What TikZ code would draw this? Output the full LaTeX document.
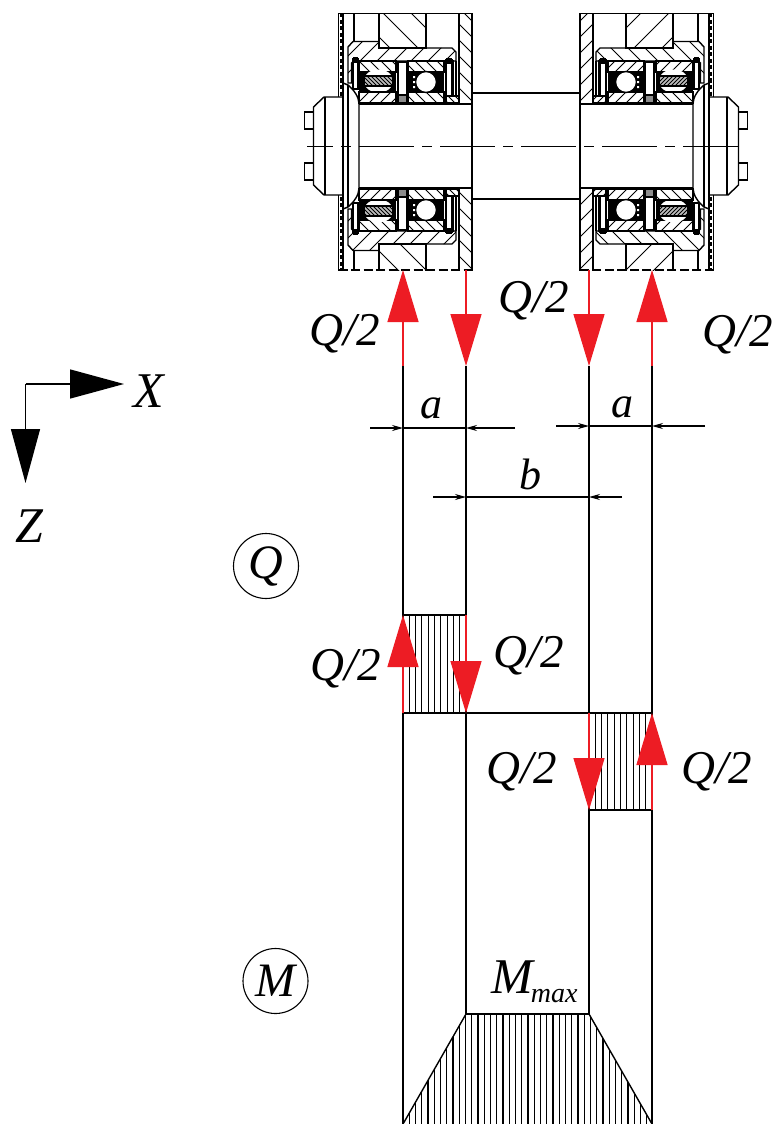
\documentclass[tikz,border=0pt]{standalone}
\usepackage{fontspec}
\setmainfont{Liberation Serif}
\usetikzlibrary{arrows.meta,calc}
\definecolor{redarrow}{HTML}{ED1C24}
\tikzset{
  ol/.style={line width=1.4pt,black},
  hl/.style={line width=1pt,black},
  dh/.style={line width=1.15pt,black},
  diag/.style={line width=1.4pt,black},
  redup/.style={line width=1.3pt,redarrow,-{Triangle[length=52pt,width=31pt]}},
  axisarrow/.style={line width=1.4pt,black,-{Triangle[length=54pt,width=29pt]}},
  dimarrow/.style={line width=1.2pt,black,-{Stealth[length=11pt,width=6pt]}},
  dimline/.style={line width=1.2pt,black},
  lbl/.style={font=\itshape\fontsize{47}{47}\selectfont,inner sep=0pt},
  axlbl/.style={font=\itshape\fontsize{50}{50}\selectfont,inner sep=0pt},
  dimlbl/.style={font=\itshape\fontsize{44}{44}\selectfont,inner sep=0pt},
  ring/.style={draw,circle,line width=1.1pt,inner sep=0pt,minimum size=65pt,font=\itshape\fontsize{48}{48}\selectfont},
}
\def\ysgn{1}
\newcommand{\hatchfill}[5]{%
  \begin{scope}
    \clip #1;
    \foreach \k in {-30,...,30}{\draw[hl] ({#2+\k*#4-120*#5*\ysgn},{#3-120}) -- ({#2+\k*#4+120*#5*\ysgn},{#3+120});}
  \end{scope}
  \draw[ol] #1;}
\newcommand{\crossfill}[1]{%
  \fill[black!45] #1;
  \draw[ol] #1;}
\newcommand{\halfass}{%
  % wall and housing block
  \hatchfill{(459,13.5) rectangle (472,104)}{465}{30}{16}{1}
  \hatchfill{(379,13.5) rectangle (426,48)}{395}{25}{28}{1}
  % outer cover
  \draw[ol] (338.5,13.5) -- (338.5,97);
  \draw[ol] (343,13.5) -- (343,146);
  \draw[line width=1.6pt,dash pattern=on 4pt off 2.5pt] (341,13.5) -- (341,97);
  \draw[ol] (354,13.5) -- (354,41.5);
  % holder
  \hatchfill{(348,83) -- (348,47) -- (353,41.5) -- (379,41.5) -- (379,48) -- (452,48) -- (456,52) -- (456,61) -- (354,61) -- (351.5,63) -- (351.5,83) -- cycle}{400}{55}{17}{-1}
  \draw[ol] (456,61) -- (456,97) (453,60) -- (453,97);
  % washer and shaft end
  \draw[ol] (343,83) -- (348,85) .. controls (354,90) and (359,97) .. (359,104) -- (359,146);
  \draw[ol] (348,85) -- (348,146);
  % retaining ring at the left
  \draw[ol,fill=white] (353,59) rectangle (358,89);
  \fill[black] (353,57) rectangle (358,63);
  % roller bearing
  \hatchfill{(359,61) rectangle (396,72)}{375}{66}{11}{1}
  \fill[black] (359,72) rectangle (396,91);
  \fill[white] (378.5,81) ellipse (15pt and 11.5pt);
  \fill[black!25] (364,76) rectangle (393,86);
  \hatchfill{(364,76) rectangle (393,86)}{375}{80}{4}{1}
  \hatchfill{(359,92) rectangle (396,103)}{375}{97}{11}{-1}
  % spacer
  \draw[ol,fill=white] (398,62) rectangle (407,95);
  \crossfill{(398,95) rectangle (407,103)}
  % ball bearing
  \hatchfill{(408,61) rectangle (444,72)}{420}{66}{11}{1}
  \fill[black] (408,72) rectangle (444,91);
  \hatchfill{(408,92) rectangle (444,103)}{420}{97}{11}{1}
  \draw[ol,fill=white] (426,82) circle (10.5pt);
  \fill[white] (413,76) rectangle (415,78) (413,81) rectangle (415,83) (413,86) rectangle (415,88);
  % snap ring at the right
  \draw[ol,fill=white] (446,60) rectangle (452,96);
  \fill[black] (446,58) rectangle (452,64);
  \hatchfill{(446,96) rectangle (459,103)}{452}{100}{7}{1}
  % shaft
  \draw[ol] (359,104) -- (472,104);
  \draw[ol] (472,13.5) -- (472,146);
  % end cap and bolts
  \draw[ol] (343,97) -- (324,97) -- (313.5,107) -- (313.5,146);
  \draw[ol] (325,97) -- (325,146);
  \draw[ol] (304.5,112) rectangle (313.5,129);
}
\newcommand{\fullass}{%
  \begin{scope}\halfass\end{scope}
  \begin{scope}
    \clip (290,146) rectangle (776,270);
    \begin{scope}[shift={(0,292)},yscale=-1]
      \def\ysgn{-1}
      \halfass
    \end{scope}
  \end{scope}
  \draw[ol] (338.5,13.5) -- (406,13.5) (409.5,13.5) -- (472,13.5);
  \draw[ol,dash pattern=on 9pt off 3.5pt] (338.5,270) -- (472,270);
}
\begin{document}
\begin{tikzpicture}[x=1pt,y=-1pt]
\useasboundingbox (0,0) rectangle (776,1124);
\fill[white] (0,0) rectangle (776,1124);
% assemblies
\fullass
\begin{scope}[shift={(1052,0)},xscale=-1]
  \fullass
\end{scope}
\draw[ol] (472,93) -- (580,93) (472,199) -- (580,199);
\draw[ol,dash pattern=on 55pt off 8pt on 10pt off 8pt,dash phase=29pt] (307,146.5) -- (745,146.5);
% coordinates
\coordinate (xa) at (403,366); \coordinate (xb) at (466,366);
\coordinate (xc) at (589,366); \coordinate (xd) at (652,366);
\coordinate (ab) at (403,1124); \coordinate (bb) at (466,1014);
\coordinate (cb) at (589,1014); \coordinate (db) at (652,1124);
\coordinate (qa) at (403,615); \coordinate (qb) at (466,615);
\coordinate (ra) at (403,713); \coordinate (rd) at (652,713);
\coordinate (rb) at (466,713); \coordinate (rc) at (589,713);
\coordinate (sc) at (589,810); \coordinate (sd) at (652,810);
% hatching of the diagrams
\begin{scope}
  \clip (qa) rectangle (rb);
  \foreach \k in {0,...,10}{\draw[dh] ({403+6.3*\k},615) -- ({403+6.3*\k},713);}
\end{scope}
\begin{scope}
  \clip (rc) rectangle (sd);
  \foreach \k in {0,...,10}{\draw[dh] ({589+6.3*\k},713) -- ({589+6.3*\k},810);}
\end{scope}
\begin{scope}
  \clip (ab) -- (bb) -- (cb) -- (db) -- cycle;
  \foreach \k in {0,...,40}{\draw[dh] ({403+6.25*\k},1014) -- ({403+6.25*\k},1124);}
\end{scope}
% diagram outlines
\draw[diag] (xa) -- (ab);
\draw[diag] (xb) -- (bb);
\draw[diag] (xc) -- (cb);
\draw[diag] (xd) -- (db);
\draw[diag] (qa) -- (qb);
\draw[diag] (ra) -- (rd);
\draw[diag] (sc) -- (sd);
\draw[diag] (bb) -- (cb);
\draw[diag] (ab) -- (bb);
\draw[diag] (cb) -- (db);
% red force arrows, upper row
\coordinate (ta) at (403,270); \coordinate (tb) at (466,270);
\coordinate (tc) at (589,270); \coordinate (td) at (652,270);
\draw[redup] (xa) -- (ta);
\draw[redup] (tb) -- (xb);
\draw[redup] (tc) -- (xc);
\draw[redup] (xd) -- (td);
% red force arrows, shear diagram
\draw[redup] (ra) -- (qa);
\draw[redup] (qb) -- (rb);
\draw[redup] (rc) -- (sc);
\draw[redup] (sd) -- (rd);
% dimensions
\coordinate (a1) at (370,428); \coordinate (a2) at (403,428);
\coordinate (a3) at (515,428); \coordinate (a4) at (466,428);
\coordinate (a5) at (556,426); \coordinate (a6) at (589,426);
\coordinate (a7) at (705,426); \coordinate (a8) at (652,426);
\coordinate (b1) at (433,497); \coordinate (b2) at (466,497);
\coordinate (b3) at (622,497); \coordinate (b4) at (589,497);
\draw[dimarrow] (a1) -- (a2);
\draw[dimarrow] (a3) -- (a4);
\draw[dimline] (a2) -- (a4);
\draw[dimarrow] (a5) -- (a6);
\draw[dimarrow] (a7) -- (a8);
\draw[dimline] (a6) -- (a8);
\draw[dimarrow] (b1) -- (b2);
\draw[dimarrow] (b3) -- (b4);
\draw[dimline] (b2) -- (b4);
\node[dimlbl] (la1) at (431,408) {a};
\node[dimlbl] (la2) at (622,407) {a};
\node[dimlbl] (lb) at (530,474) {b};
% labels
\node[lbl] (q1) at (345,334) {Q/2};
\node[lbl] (q2) at (534,301) {Q/2};
\node[lbl] (q3) at (738,335) {Q/2};
\node[lbl] (q4) at (346,669) {Q/2};
\node[lbl] (q5) at (529,656) {Q/2};
\node[lbl] (q6) at (522,772) {Q/2};
\node[lbl] (q7) at (717,772) {Q/2};
% axes
\coordinate (or) at (25.5,384);
\coordinate (xe) at (124,384);
\coordinate (ze) at (25.5,483);
\draw[axisarrow] (or) -- (xe);
\draw[axisarrow] (or) -- (ze);
\node[axlbl] (lx) at (149,391) {X};
\node[axlbl] (lz) at (29,526) {Z};
\node[ring] (cq) at (266,566) {Q};
\node[ring] (cm) at (275.5,981) {M};
\node[inner sep=0pt,anchor=base west,font=\itshape\fontsize{50}{50}\selectfont] (mm) at (491,993) {M\kern-2pt\raisebox{-9pt}{\fontsize{28}{28}\selectfont max}};
\end{tikzpicture}
\end{document}
